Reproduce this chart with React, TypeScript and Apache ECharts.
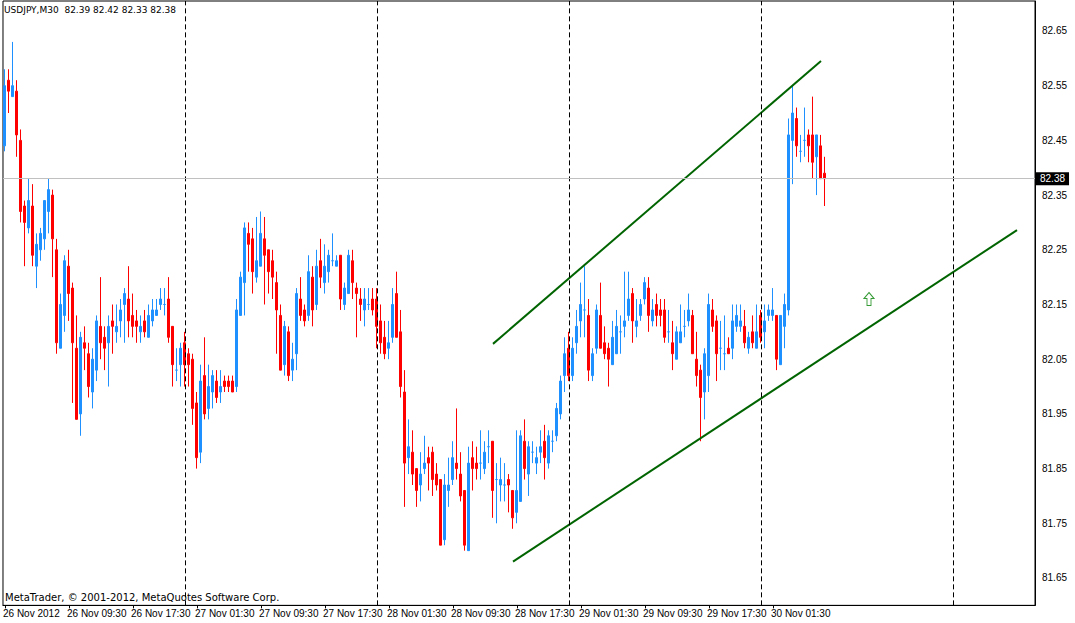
import React, { useEffect, useRef } from "react";
import * as echarts from "echarts";

// ---- Data (USDJPY M30, 26 Nov 2012 01:30 .. 30 Nov 2012 08:00) ----
const opens = [
  82.44, 82.56, 82.53, 82.54, 82.45, 82.33, 82.29, 82.33, 82.22, 82.25,
  82.27, 82.32, 82.35, 82.25, 82.07, 82.13, 82.22, 82.18, 82.07, 81.95,
  82.08, 82.06, 81.99, 82.03, 82.11, 82.09, 82.08, 82.12, 82.10, 82.12,
  82.15, 82.16, 82.13, 82.12, 82.10, 82.12, 82.09, 82.12, 82.13, 82.15,
  82.15, 82.16, 82.11, 82.03, 82.04, 82.08, 82.06, 82.05, 81.97, 81.88,
  82.02, 81.96, 81.99, 82.01, 81.99, 82.01, 82.01, 82.01, 82.00, 82.13,
  82.19, 82.28, 82.27, 82.20, 82.22, 82.27, 82.25, 82.23, 82.19, 82.13,
  82.04, 82.10, 82.03, 82.06, 82.16, 82.14, 82.13, 82.20, 82.15, 82.23,
  82.19, 82.21, 82.23, 82.22, 82.24, 82.15, 82.17, 82.23, 82.18, 82.16,
  82.14, 82.15, 82.16, 82.16, 82.12, 82.09, 82.07, 82.09, 82.17, 82.10,
  81.99, 81.87, 81.88, 81.85, 81.82, 81.85, 81.87, 81.88, 81.84, 81.83,
  81.72, 81.81, 81.83, 81.86, 81.84, 81.81, 81.70, 81.87, 81.86, 81.86,
  81.85, 81.89, 81.90, 81.83, 81.82, 81.82, 81.83, 81.81, 81.77, 81.79,
  81.90, 81.84, 81.88, 81.86, 81.88, 81.90, 81.86, 81.90, 81.91, 81.95,
  82.02, 82.07, 82.02, 82.08, 82.12, 82.14, 82.13, 82.02, 82.07, 82.13,
  82.08, 82.07, 82.04, 82.06, 82.10, 82.11, 82.13, 82.17, 82.11, 82.13,
  82.16, 82.18, 82.12, 82.15, 82.14, 82.14, 82.10, 82.08, 82.05, 82.08,
  82.11, 82.12, 82.13, 82.05, 82.03, 81.99, 82.02, 82.14, 82.12, 82.07,
  82.06, 82.07, 82.07, 82.11, 82.11, 82.11, 82.07, 82.10, 82.07, 82.13,
  82.10, 82.13, 82.13, 82.13, 82.04, 82.11, 82.14, 82.45, 82.49, 82.43,
  82.45, 82.46, 82.46, 82.42, 82.44, 82.39,
];
const closes = [
  82.55, 82.54, 82.55, 82.46, 82.32, 82.30, 82.34, 82.24, 82.26, 82.28,
  82.34, 82.36, 82.27, 82.08, 82.15, 82.23, 82.17, 82.08, 81.94, 82.09,
  82.07, 82.00, 82.05, 82.12, 82.08, 82.07, 82.11, 82.11, 82.11, 82.14,
  82.17, 82.12, 82.11, 82.11, 82.11, 82.10, 82.13, 82.14, 82.14, 82.16,
  82.15, 82.09, 82.04, 82.03, 82.07, 82.04, 82.04, 81.96, 81.87, 82.01,
  81.95, 82.00, 82.02, 81.98, 82.00, 82.00, 82.00, 81.99, 82.14, 82.20,
  82.29, 82.26, 82.21, 82.23, 82.28, 82.24, 82.21, 82.20, 82.14, 82.03,
  82.11, 82.02, 82.05, 82.17, 82.13, 82.12, 82.21, 82.14, 82.22, 82.20,
  82.22, 82.24, 82.23, 82.23, 82.16, 82.18, 82.24, 82.19, 82.17, 82.15,
  82.16, 82.15, 82.14, 82.11, 82.08, 82.06, 82.08, 82.15, 82.09, 82.00,
  81.86, 81.89, 81.84, 81.81, 81.84, 81.86, 81.86, 81.83, 81.82, 81.71,
  81.82, 81.82, 81.87, 81.85, 81.80, 81.71, 81.86, 81.85, 81.85, 81.86,
  81.88, 81.89, 81.81, 81.83, 81.83, 81.82, 81.82, 81.76, 81.81, 81.91,
  81.85, 81.89, 81.88, 81.87, 81.89, 81.87, 81.91, 81.90, 81.96, 82.01,
  82.06, 82.02, 82.07, 82.11, 82.15, 82.14, 82.03, 82.06, 82.14, 82.07,
  82.06, 82.05, 82.09, 82.11, 82.10, 82.12, 82.16, 82.12, 82.12, 82.15,
  82.19, 82.13, 82.14, 82.13, 82.13, 82.09, 82.10, 82.06, 82.10, 82.10,
  82.11, 82.14, 82.06, 82.02, 81.98, 82.06, 82.15, 82.11, 82.06, 82.07,
  82.06, 82.06, 82.12, 82.13, 82.12, 82.08, 82.09, 82.08, 82.10, 82.09,
  82.12, 82.14, 82.14, 82.05, 82.13, 82.15, 82.46, 82.50, 82.44, 82.43,
  82.45, 82.44, 82.41, 82.46, 82.38, 82.38,
];
const highs = [
  82.58, 82.58, 82.63, 82.56, 82.47, 82.34, 82.38, 82.37, 82.28, 82.29,
  82.34, 82.38, 82.36, 82.27, 82.17, 82.24, 82.25, 82.19, 82.13, 82.10,
  82.11, 82.08, 82.07, 82.13, 82.20, 82.11, 82.13, 82.15, 82.15, 82.16,
  82.18, 82.22, 82.17, 82.14, 82.13, 82.14, 82.15, 82.16, 82.16, 82.18,
  82.18, 82.20, 82.11, 82.07, 82.08, 82.10, 82.07, 82.06, 81.99, 82.04,
  82.09, 82.04, 82.03, 82.03, 82.03, 82.02, 82.02, 82.02, 82.16, 82.21,
  82.30, 82.30, 82.29, 82.31, 82.32, 82.31, 82.25, 82.25, 82.21, 82.15,
  82.12, 82.11, 82.08, 82.18, 82.20, 82.15, 82.24, 82.22, 82.25, 82.27,
  82.26, 82.25, 82.28, 82.24, 82.24, 82.19, 82.25, 82.25, 82.19, 82.18,
  82.18, 82.18, 82.18, 82.18, 82.15, 82.12, 82.12, 82.18, 82.21, 82.14,
  82.03, 81.94, 81.92, 81.85, 81.88, 81.91, 81.89, 81.89, 81.86, 81.83,
  81.84, 81.87, 81.90, 81.96, 81.88, 81.81, 81.89, 81.90, 81.89, 81.92,
  81.90, 81.92, 81.90, 81.86, 81.87, 81.86, 81.84, 81.81, 81.92, 81.92,
  81.94, 81.90, 81.90, 81.89, 81.92, 81.93, 81.92, 81.92, 81.97, 82.02,
  82.09, 82.10, 82.09, 82.14, 82.19, 82.22, 82.16, 82.07, 82.15, 82.19,
  82.11, 82.08, 82.12, 82.14, 82.13, 82.21, 82.21, 82.18, 82.16, 82.16,
  82.20, 82.20, 82.16, 82.17, 82.16, 82.16, 82.14, 82.12, 82.11, 82.15,
  82.14, 82.17, 82.14, 82.10, 82.04, 82.07, 82.17, 82.16, 82.13, 82.12,
  82.13, 82.09, 82.15, 82.15, 82.15, 82.14, 82.10, 82.13, 82.15, 82.14,
  82.15, 82.15, 82.18, 82.13, 82.13, 82.17, 82.49, 82.55, 82.51, 82.46,
  82.51, 82.47, 82.53, 82.46, 82.46, 82.42,
];
const lows = [
  82.43, 82.50, 82.53, 82.42, 82.30, 82.22, 82.28, 82.22, 82.18, 82.23,
  82.25, 82.28, 82.20, 82.06, 82.07, 82.10, 82.12, 81.97, 81.94, 81.91,
  82.03, 81.98, 81.96, 82.01, 82.05, 82.03, 82.00, 82.06, 82.08, 82.09,
  82.08, 82.09, 82.09, 82.08, 82.08, 82.09, 82.09, 82.11, 82.13, 82.14,
  82.13, 82.08, 82.00, 82.01, 82.00, 82.00, 82.00, 81.93, 81.85, 81.86,
  81.94, 81.94, 81.96, 81.97, 81.97, 81.99, 81.99, 81.99, 81.99, 82.13,
  82.13, 82.21, 82.17, 82.19, 82.22, 82.15, 82.17, 82.16, 82.06, 82.03,
  82.02, 82.01, 82.01, 82.03, 82.12, 82.11, 82.12, 82.11, 82.14, 82.18,
  82.17, 82.19, 82.22, 82.22, 82.14, 82.14, 82.17, 82.16, 82.09, 82.12,
  82.11, 82.14, 82.13, 82.07, 82.06, 82.05, 82.05, 82.08, 82.09, 81.98,
  81.78, 81.84, 81.82, 81.78, 81.79, 81.84, 81.81, 81.80, 81.81, 81.71,
  81.71, 81.78, 81.82, 81.83, 81.79, 81.70, 81.70, 81.81, 81.83, 81.83,
  81.84, 81.86, 81.76, 81.75, 81.79, 81.79, 81.77, 81.74, 81.75, 81.79,
  81.83, 81.80, 81.86, 81.84, 81.86, 81.83, 81.85, 81.88, 81.90, 81.94,
  81.99, 82.01, 82.01, 82.06, 82.09, 82.09, 82.01, 82.01, 82.06, 82.07,
  82.05, 82.00, 82.04, 82.06, 82.06, 82.09, 82.12, 82.08, 82.09, 82.12,
  82.15, 82.10, 82.11, 82.11, 82.11, 82.08, 82.08, 82.03, 82.05, 82.08,
  82.09, 82.11, 82.06, 82.00, 81.90, 81.94, 81.99, 82.10, 82.01, 82.03,
  82.03, 82.06, 82.05, 82.10, 82.10, 82.07, 82.06, 82.07, 82.07, 82.08,
  82.07, 82.12, 82.12, 82.03, 82.04, 82.07, 82.13, 82.37, 82.42, 82.41,
  82.42, 82.41, 82.38, 82.35, 82.38, 82.33,
];

// trend lines: [bar index, price]
const upperTrend = [
  [122, 82.078],
  [204, 82.595],
];
const lowerTrend = [
  [127, 81.68],
  [253, 82.286],
];
const arrowPoint = [216, 82.16];
const lastPrice = 82.38;

const headerText = "USDJPY,M30  82.39 82.42 82.33 82.38";
const footerText = "MetaTrader, \u00a9 2001-2012, MetaQuotes Software Corp.";
const firstLabel = "26 Nov 2012";

// ---- Time categories ----
const START = Date.UTC(2012, 10, 26, 1, 30);
const SLOTS = 258;
const MONTHS = ["Jan", "Feb", "Mar", "Apr", "May", "Jun", "Jul", "Aug", "Sep", "Oct", "Nov", "Dec"];
const pad = (n: number) => (n < 10 ? "0" + n : "" + n);
const times = Array.from({ length: SLOTS }, (_, i) => new Date(START + i * 30 * 60 * 1000));
const categories = times.map(
  (d) => `${d.getUTCDate()} ${MONTHS[d.getUTCMonth()]} ${pad(d.getUTCHours())}:${pad(d.getUTCMinutes())}`
);
const dayStarts = times
  .map((d, i) => (d.getUTCHours() === 0 && d.getUTCMinutes() === 0 ? i : -1))
  .filter((i) => i >= 0);

const BULL = "#1E90FF";
const BEAR = "#FF0000";
const FONT = '"Liberation Sans", Arial, sans-serif';
const NOTE_FONT = '"DejaVu Sans", Verdana, sans-serif';
const N = opens.length;

export default function App() {
  const ref = useRef<HTMLDivElement>(null);

  useEffect(() => {
    if (!ref.current) return;
    const chart = echarts.init(ref.current, undefined, { renderer: "svg" });

    const candleData = opens.map((o, i) => {
      const item: any = { value: [o, closes[i], lows[i], highs[i]] };
      if (o === closes[i]) {
        item.itemStyle = { color: BULL, color0: BULL, borderColor: BULL, borderColor0: BULL };
      }
      return item;
    });

    const labelShown = (i: number) => i % 16 === 0 && i < N;

    const option: any = {
      animation: false,
      backgroundColor: "#ffffff",
      textStyle: { fontFamily: FONT },
      grid: {
        left: 1,
        right: 40,
        top: 1,
        bottom: 17.65,
        show: true,
        borderColor: "#000",
        borderWidth: 1,
        backgroundColor: "#fff",
      },
      xAxis: {
        type: "category",
        data: categories,
        boundaryGap: true,
        axisLine: { show: true, lineStyle: { color: "#000", width: 1 } },
        axisTick: {
          show: true,
          alignWithLabel: true,
          interval: (i: number) => labelShown(i),
          length: 3,
          lineStyle: { color: "#000" },
        },
        axisLabel: {
          interval: (i: number) => labelShown(i),
          align: "left",
          margin: 3,
          color: "#000",
          fontSize: 10,
          fontFamily: FONT,
          padding: [0, 0, 0, -2],
          formatter: (v: string, i: number) => (i === 0 ? firstLabel : v),
        },
        splitLine: { show: false },
      },
      yAxis: {
        type: "value",
        position: "right",
        min: 81.6,
        max: 82.7048,
        interval: 0.05,
        axisLine: { show: true, lineStyle: { color: "#000", width: 1 } },
        axisTick: { show: false },
        splitLine: { show: false },
        axisLabel: {
          margin: 7,
          color: "#000",
          fontSize: 10,
          fontFamily: FONT,
          formatter: (v: number) => {
            const s = v.toFixed(2);
            return s.endsWith("5") ? s : "";
          },
        },
      },
      series: [
        {
          type: "candlestick",
          data: candleData,
          barWidth: 2.5,
          itemStyle: {
            color: BULL,
            color0: BEAR,
            borderColor: BULL,
            borderColor0: BEAR,
            borderWidth: 1,
          },
          markLine: {
            silent: true,
            symbol: ["none", "none"],
            animation: false,
            data: [
              ...dayStarts.map((i) => ({
                xAxis: categories[i],
                lineStyle: { color: "#000", type: [5, 3], width: 1 },
                label: { show: false },
              })),
              {
                yAxis: lastPrice,
                lineStyle: { color: "#C0C0C0", type: "solid", width: 1 },
                label: {
                  show: true,
                  position: "end",
                  distance: 1,
                  formatter: lastPrice.toFixed(2),
                  backgroundColor: "#000",
                  color: "#fff",
                  fontSize: 10,
                  fontFamily: FONT,
                  padding: [2, 4, 1, 4],
                },
              },
            ],
          },
        },
        {
          type: "line",
          data: upperTrend.map(([i, p]) => [categories[i], p]),
          symbol: "none",
          silent: true,
          lineStyle: { color: "#006400", width: 2 },
        },
        {
          type: "line",
          data: lowerTrend.map(([i, p]) => [categories[i], p]),
          symbol: "none",
          silent: true,
          lineStyle: { color: "#006400", width: 2 },
        },
        {
          type: "scatter",
          data: [[categories[arrowPoint[0]], arrowPoint[1]]],
          symbol: "path://M5 0 L10 6 L7 6 L7 13 L3 13 L3 6 L0 6 Z",
          symbolSize: [10, 13],
          silent: true,
          itemStyle: { color: "#fff", borderColor: "#008000", borderWidth: 1 },
        },
      ],
      graphic: [
        {
          type: "text",
          left: 4,
          top: 5,
          silent: true,
          style: { text: headerText, fill: "#000", font: `9px ${NOTE_FONT}` },
        },
        {
          type: "text",
          left: 5,
          top: 592,
          silent: true,
          style: { text: footerText, fill: "#000", font: `10px ${NOTE_FONT}` },
        },
      ],
    };

    chart.setOption(option);
    return () => chart.dispose();
  }, []);

  return (
    <div
      ref={ref}
      style={{ position: "fixed", left: 0, top: 0, width: 1075, height: 623, background: "#fff" }}
    />
  );
}
